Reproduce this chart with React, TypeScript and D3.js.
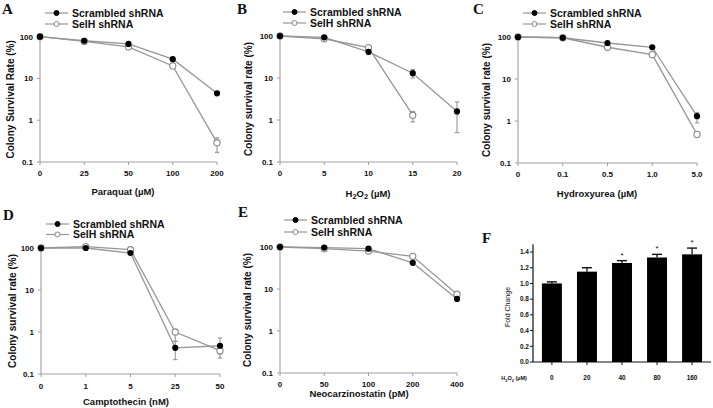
import React from "react";
import * as d3 from "d3";

// ---------- DATA ----------
const seriesNames = ["Scrambled shRNA", "SelH shRNA"];

const aDoses = ["0", "25", "50", "100", "200"];
const aScrambled = [100, 80, 67, 29, 4.4];
const aSelH = [100, 77, 57, 20, 0.29];
const aScrambledErr: ([number, number] | null)[] = [null, null, null, null, null];
const aSelHErr: ([number, number] | null)[] = [null, null, null, null, [0.17, 0.38]];

const bDoses = ["0", "5", "10", "15", "20"];
const bScrambled = [100, 93, 42, 13, 1.6];
const bSelH: (number | null)[] = [100, 86, 53, 1.3, null];
const bScrambledErr: ([number, number] | null)[] = [null, null, [36, 48], [10, 16], [0.5, 2.7]];
const bSelHErr: ([number, number] | null)[] = [null, null, null, [0.9, 1.6], null];

const cDoses = ["0", "0.1", "0.5", "1.0", "5.0"];
const cScrambled = [100, 96, 72, 57, 1.3];
const cSelH = [100, 96, 57, 38, 0.48];
const cScrambledErr: ([number, number] | null)[] = [null, null, null, null, [0.9, 1.6]];
const cSelHErr: ([number, number] | null)[] = [null, null, null, null, null];

const dDoses = ["0", "1", "5", "25", "50"];
const dScrambled = [100, 100, 76, 0.42, 0.47];
const dSelH = [100, 108, 91, 1.0, 0.36];
const dScrambledErr: ([number, number] | null)[] = [null, null, null, [0.22, 0.6], [0.3, 0.72]];
const dSelHErr: ([number, number] | null)[] = [null, null, null, [0.6, 1.1], [0.24, 0.5]];

const eDoses = ["0", "50", "100", "200", "400"];
const eScrambled = [100, 97, 91, 42, 5.8];
const eSelH = [100, 91, 80, 60, 7.5];
const eScrambledErr: ([number, number] | null)[] = [null, null, null, null, null];
const eSelHErr: ([number, number] | null)[] = [null, null, null, null, null];

const yTickValues = [0.1, 1, 10, 100];
const yTickLabels = ["0.1", "1", "10", "100"];

const fDoses = ["0", "20", "40", "80", "160"];
const fFold = [1.0, 1.15, 1.26, 1.33, 1.37];
const fErrHigh = [1.02, 1.2, 1.29, 1.37, 1.45];
const fStar = [false, false, true, true, true];
const fTicks = [0, 0.2, 0.4, 0.6, 0.8, 1.0, 1.2, 1.4];

// ---------- STYLE ----------
const SANS = "'Liberation Sans', Arial, Helvetica, sans-serif";
const SERIF = "'Liberation Serif', 'Times New Roman', serif";
const LINE = "#979797";
const AXIS = "#a0a0a0";
const INK = "#111";

type PanelProps = {
  letter: string;
  letterX: number;
  letterY: number;
  x0: number;
  x1: number;
  yTop: number;
  yBot: number;
  legendX: number;
  legendY: number;
  legendGap: number;
  yTitle: string;
  yTitleX: number;
  xTitle: React.ReactNode;
  xTitleX: number;
  xTitleY: number;
  tickY: number;
  doses: string[];
  s1: (number | null)[];
  s2: (number | null)[];
  e1: ([number, number] | null)[];
  e2: ([number, number] | null)[];
};

function LogPanel(p: PanelProps) {
  const x = d3.scalePoint<string>().domain(p.doses).range([p.x0, p.x1]);
  const y = d3.scaleLog().domain([0.1, 100]).range([p.yBot, p.yTop]);
  const line = d3
    .line<{ d: string; v: number | null }>()
    .defined((q) => q.v != null)
    .x((q) => x(q.d)!)
    .y((q) => y(q.v as number));
  const pts1 = p.doses.map((d, i) => ({ d, v: p.s1[i] }));
  const pts2 = p.doses.map((d, i) => ({ d, v: p.s2[i] }));
  const errs = (e: ([number, number] | null)[]) =>
    e.map((r, i) =>
      r ? (
        <g key={i} stroke={LINE} strokeWidth={1.1}>
          <line x1={x(p.doses[i])} x2={x(p.doses[i])} y1={y(r[0])} y2={y(r[1])} />
          <line x1={x(p.doses[i])! - 2.2} x2={x(p.doses[i])! + 2.2} y1={y(r[0])} y2={y(r[0])} />
          <line x1={x(p.doses[i])! - 2.2} x2={x(p.doses[i])! + 2.2} y1={y(r[1])} y2={y(r[1])} />
        </g>
      ) : null
    );
  return (
    <g>
      <text x={p.letterX} y={p.letterY} fontFamily={SERIF} fontWeight="bold" fontSize={15} fill={INK}>
        {p.letter}
      </text>
      {/* legend */}
      {seriesNames.map((n, i) => {
        const ly = p.legendY + i * p.legendGap;
        return (
          <g key={n}>
            <line x1={p.legendX} x2={p.legendX + 23} y1={ly} y2={ly} stroke={LINE} strokeWidth={1.2} />
            <circle
              cx={p.legendX + 11.5}
              cy={ly}
              r={2.5}
              fill={i === 0 ? "#000" : "#fff"}
              stroke={i === 0 ? "#000" : "#888"}
              strokeWidth={1}
            />
            <text x={p.legendX + 27} y={ly + 3.8} fontFamily={SANS} fontWeight="bold" fontSize={10.5} fill={INK}>
              {n}
            </text>
          </g>
        );
      })}
      {/* axes */}
      <line x1={p.x0} x2={p.x0} y1={p.yTop} y2={p.yBot} stroke={AXIS} strokeWidth={1.1} />
      <line x1={p.x0} x2={p.x1} y1={p.yBot} y2={p.yBot} stroke={AXIS} strokeWidth={1.1} />
      {yTickValues.map((v, i) => (
        <g key={v}>
          <line x1={p.x0 - 3} x2={p.x0} y1={y(v)} y2={y(v)} stroke={AXIS} strokeWidth={1} />
          <text
            x={p.x0 - 7}
            y={y(v) + 3}
            textAnchor="end"
            fontFamily={SANS}
            fontWeight="bold"
            fontSize={8}
            fill={INK}
          >
            {yTickLabels[i]}
          </text>
        </g>
      ))}
      {p.doses.map((d) => (
        <g key={d}>
          <line x1={x(d)} x2={x(d)} y1={p.yBot} y2={p.yBot + 3} stroke={AXIS} strokeWidth={1} />
          <text x={x(d)} y={p.tickY} textAnchor="middle" fontFamily={SANS} fontWeight="bold" fontSize={8} fill={INK}>
            {d}
          </text>
        </g>
      ))}
      <text
        transform={`translate(${p.yTitleX},${(p.yTop + p.yBot) / 2}) rotate(-90)`}
        textAnchor="middle"
        dy="0.35em"
        fontFamily={SANS}
        fontWeight="bold"
        fontSize={10}
        fill={INK}
      >
        {p.yTitle}
      </text>
      <text x={p.xTitleX} y={p.xTitleY} textAnchor="middle" fontFamily={SANS} fontWeight="bold" fontSize={9.5} fill={INK}>
        {p.xTitle}
      </text>
      {/* series */}
      <path d={line(pts1) || ""} fill="none" stroke={LINE} strokeWidth={1.3} />
      <path d={line(pts2) || ""} fill="none" stroke={LINE} strokeWidth={1.3} />
      {errs(p.e1)}
      {errs(p.e2)}
      {pts2.map((q, i) =>
        q.v != null ? <circle key={i} cx={x(q.d)} cy={y(q.v)} r={3.1} fill="#fff" stroke="#888" strokeWidth={1.1} /> : null
      )}
      {pts1.map((q, i) =>
        q.v != null ? <circle key={i} cx={x(q.d)} cy={y(q.v)} r={3.1} fill="#000" /> : null
      )}
    </g>
  );
}

function BarPanel() {
  const x0 = 533,
    x1 = 711,
    y0 = 362;
  const x = d3.scaleBand<string>().domain(fDoses).range([x0, x1]).paddingInner(0.43).paddingOuter(0.255);
  const y = d3.scaleLinear().domain([0, 1.4]).range([y0, y0 - 110]);
  const bw = x.bandwidth();
  return (
    <g>
      <text x={482} y={243} fontFamily={SERIF} fontWeight="bold" fontSize={15} fill={INK}>
        F
      </text>
      <line x1={x0} x2={x0} y1={y(1.5)} y2={y0} stroke={INK} strokeWidth={1.2} />
      <line x1={x0} x2={x1} y1={y0} y2={y0} stroke={INK} strokeWidth={1.2} />
      {fTicks.map((t) => (
        <g key={t}>
          <line x1={x0 - 3} x2={x0} y1={y(t)} y2={y(t)} stroke={INK} strokeWidth={1} />
          <text x={x0 - 4} y={y(t) + 2.3} textAnchor="end" fontFamily={SANS} fontWeight="bold" fontSize={6.5} fill={INK}>
            {t.toFixed(1)}
          </text>
        </g>
      ))}
      {fDoses.map((d, i) => {
        const cx = x(d)! + bw / 2;
        return (
          <g key={d}>
            <line x1={cx} x2={cx} y1={y(fFold[i])} y2={y(fErrHigh[i])} stroke={INK} strokeWidth={1.3} />
            <line x1={cx - 5} x2={cx + 5} y1={y(fErrHigh[i])} y2={y(fErrHigh[i])} stroke={INK} strokeWidth={1.4} />
            <rect x={x(d)} y={y(fFold[i])} width={bw} height={y0 - y(fFold[i])} fill="#000" />
            <line x1={cx} x2={cx} y1={y0} y2={y0 + 3} stroke={INK} strokeWidth={1} />
            {fStar[i] ? (
              <text x={cx} y={y(fErrHigh[i]) - 3} textAnchor="middle" fontFamily={SANS} fontSize={8} fill={INK}>
                *
              </text>
            ) : null}
            <text x={cx} y={380} textAnchor="middle" fontFamily={SANS} fontWeight="bold" fontSize={6.5} fill={INK}>
              {d}
            </text>
          </g>
        );
      })}
      <text x={514} y={380} textAnchor="middle" fontFamily={SANS} fontWeight="bold" fontSize={5.5} fill={INK}>
        H
        <tspan fontSize={4} dy={1.5}>2</tspan>
        <tspan dy={-1.5}>O</tspan>
        <tspan fontSize={4} dy={1.5}>2</tspan>
        <tspan dy={-1.5}> (µM)</tspan>
      </text>
      <text
        transform={`translate(508,${y(0.7)}) rotate(-90)`}
        textAnchor="middle"
        dy="0.35em"
        fontFamily={SANS}
        fontSize={7}
        fill={INK}
      >
        Fold Change
      </text>
    </g>
  );
}

export default function App() {
  return (
    <svg width={713} height={408} style={{ position: "absolute", left: 0, top: 0, background: "#fff" }}>
      <rect width={713} height={408} fill="#fff" />
      <LogPanel
        letter="A" letterX={2} letterY={14}
        x0={40} x1={217} yTop={36.7} yBot={162}
        legendX={45} legendY={13} legendGap={11}
        yTitle="Colony Survival Rate (%)" yTitleX={10}
        xTitle="Paraquat (µM)" xTitleX={123} xTitleY={195} tickY={176}
        doses={aDoses} s1={aScrambled} s2={aSelH} e1={aScrambledErr} e2={aSelHErr}
      />
      <LogPanel
        letter="B" letterX={237} letterY={14}
        x0={280} x1={457} yTop={36} yBot={162}
        legendX={283} legendY={12} legendGap={11}
        yTitle="Colony survival rate (%)" yTitleX={248}
        xTitle={
          <>
            H<tspan fontSize={7.5} dy={2}>2</tspan>
            <tspan dy={-2}>O</tspan>
            <tspan fontSize={7.5} dy={2}>2</tspan>
            <tspan dy={-2}> (µM)</tspan>
          </>
        }
        xTitleX={368} xTitleY={197} tickY={176}
        doses={bDoses} s1={bScrambled} s2={bSelH} e1={bScrambledErr} e2={bSelHErr}
      />
      <LogPanel
        letter="C" letterX={473} letterY={14}
        x0={518} x1={697} yTop={37} yBot={163}
        legendX={523} legendY={13} legendGap={11}
        yTitle="Colony survival rate (%)" yTitleX={486}
        xTitle="Hydroxyurea (µM)" xTitleX={597} xTitleY={197} tickY={177}
        doses={cDoses} s1={cScrambled} s2={cSelH} e1={cScrambledErr} e2={cSelHErr}
      />
      <LogPanel
        letter="D" letterX={3} letterY={220}
        x0={41} x1={220} yTop={248} yBot={374}
        legendX={46} legendY={224} legendGap={10.5}
        yTitle="Colony survival rate (%)" yTitleX={12}
        xTitle="Camptothecin (nM)" xTitleX={126} xTitleY={405} tickY={389}
        doses={dDoses} s1={dScrambled} s2={dSelH} e1={dScrambledErr} e2={dSelHErr}
      />
      <LogPanel
        letter="E" letterX={238} letterY={217}
        x0={280} x1={457} yTop={247} yBot={373}
        legendX={284} legendY={220} legendGap={12}
        yTitle="Colony survival rate (%)" yTitleX={247}
        xTitle="Neocarzinostatin (pM)" xTitleX={359} xTitleY={397} tickY={387}
        doses={eDoses} s1={eScrambled} s2={eSelH} e1={eScrambledErr} e2={eSelHErr}
      />
      <BarPanel />
    </svg>
  );
}
